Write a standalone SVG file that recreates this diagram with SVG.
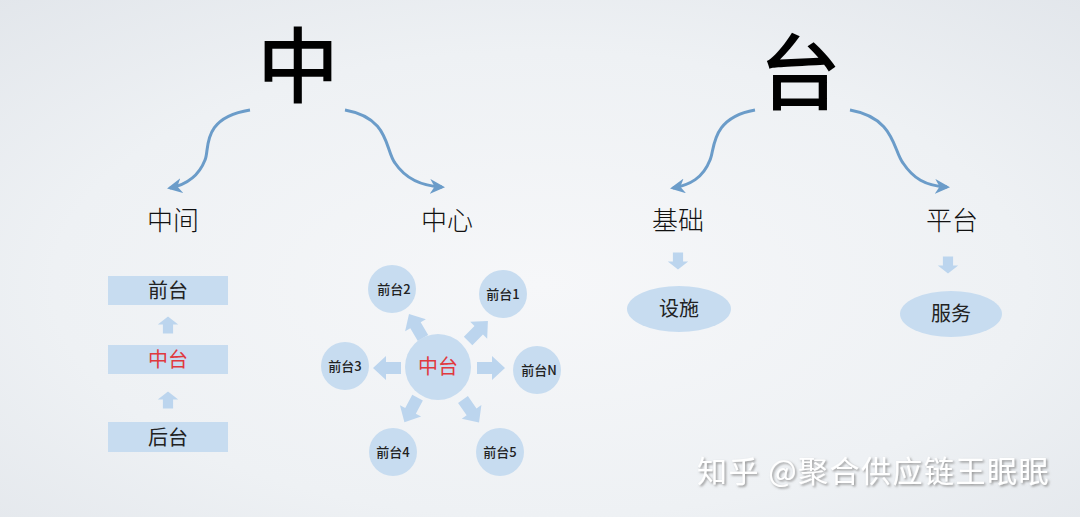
<svg xmlns="http://www.w3.org/2000/svg" width="1080" height="517" viewBox="0 0 1080 517">
<defs>
<radialGradient id="bg" cx="0.5" cy="0.55" r="0.75">
<stop offset="0" stop-color="#f6f7f9"/>
<stop offset="0.6" stop-color="#eef1f4"/>
<stop offset="1" stop-color="#e2e6eb"/>
</radialGradient>
<marker id="ah" viewBox="0 0 10 10" refX="8" refY="5" markerWidth="5" markerHeight="5" orient="auto">
<path d="M0,0 L10,5 L0,10 L3,5 Z" fill="#6b9cc9"/>
</marker>
<path id="blk" d="M-14,-6 L1,-6 L1,-12 L14,0 L1,12 L1,6 L-14,6 Z"/>
<filter id="sh" x="-5%" y="-20%" width="110%" height="140%">
<feDropShadow dx="1.5" dy="1.5" stdDeviation="0.8" flood-color="#8c8c8c" flood-opacity="0.9"/>
</filter>
<style>
.big{font-family:"Noto Sans CJK SC","Noto Sans CJK JP",sans-serif;font-size:82px;font-weight:500;fill:#000;text-anchor:middle}
.lbl{font-family:"Noto Sans CJK SC",sans-serif;font-size:26px;font-weight:300;fill:#111;text-anchor:middle}
.box{fill:#c7dcf0}
.bt{font-family:"Noto Sans CJK SC",sans-serif;font-size:20px;fill:#222;text-anchor:middle}
.red{fill:#e0393e}
.circ{fill:#c7dcf0}
.ct{font-family:"Noto Sans CJK SC",sans-serif;font-size:13px;font-weight:500;fill:#222;text-anchor:middle}
.ba{fill:#bcd5ee}
.curve{fill:none;stroke:#6b9cc9;stroke-width:3;marker-end:url(#ah)}
.wm{font-family:"Noto Sans CJK SC",sans-serif;font-size:30px;letter-spacing:1.5px;fill:#ffffff;filter:url(#sh)}
</style>
</defs>
<rect width="1080" height="517" fill="url(#bg)"/>

<g id="title-zhong"><text class="big" x="298" y="96">中</text></g>
<g id="title-tai"><text class="big" x="800" y="103">台</text></g>

<g id="connectors">
<path class="curve" d="M250,110 C200,118 210,150 205,160 C198,178 185,185 170,188"/>
<path class="curve" d="M345,110 C390,118 385,150 395,163 C405,178 420,186 442,187"/>
<path class="curve" d="M755,110 C710,118 715,150 710,160 C703,178 690,185 673,188"/>
<path class="curve" d="M850,110 C895,118 893,150 903,163 C913,178 925,186 947,187"/>
</g>

<g id="label-zhongjian"><text class="lbl" x="173" y="230">中间</text></g>
<g id="label-zhongxin"><text class="lbl" x="447" y="230">中心</text></g>
<g id="label-jichu"><text class="lbl" x="678" y="230">基础</text></g>
<g id="label-pingtai"><text class="lbl" x="952" y="230">平台</text></g>

<g id="stack-qiantai"><rect class="box" x="108" y="276" width="120" height="29"/><text class="bt" x="168" y="298">前台</text></g>
<g id="stack-zhongtai"><rect class="box" x="108" y="345" width="120" height="29"/><text class="bt red" x="168" y="367">中台</text></g>
<g id="stack-houtai"><rect class="box" x="108" y="422" width="120" height="30"/><text class="bt" x="168" y="445">后台</text></g>
<g id="stack-arrows">
<use href="#blk" class="ba" transform="translate(168,325) rotate(-90) scale(0.6,0.85)"/>
<use href="#blk" class="ba" transform="translate(168,400) rotate(-90) scale(0.6,0.85)"/>
</g>

<g id="hub-arrows">
<use href="#blk" class="ba" transform="translate(416,326) rotate(-120)"/>
<use href="#blk" class="ba" transform="translate(478,331) rotate(-45)"/>
<use href="#blk" class="ba" transform="translate(387,368) rotate(180)"/>
<use href="#blk" class="ba" transform="translate(491,368)"/>
<use href="#blk" class="ba" transform="translate(411,410) rotate(118)"/>
<use href="#blk" class="ba" transform="translate(471,411) rotate(55)"/>
</g>
<g id="hub"><circle class="circ" cx="438" cy="367" r="33"/><text class="bt red" x="438" y="374" style="font-size:20px">中台</text></g>
<g id="sat-2"><circle class="circ" cx="392" cy="289" r="24"/><text class="ct" x="394" y="294">前台2</text></g>
<g id="sat-1"><circle class="circ" cx="503" cy="294" r="24"/><text class="ct" x="503" y="299">前台1</text></g>
<g id="sat-3"><circle class="circ" cx="345" cy="366" r="24"/><text class="ct" x="345" y="371">前台3</text></g>
<g id="sat-n"><circle class="circ" cx="537" cy="370" r="24"/><text class="ct" x="539" y="375">前台N</text></g>
<g id="sat-4"><circle class="circ" cx="393" cy="452" r="24"/><text class="ct" x="393" y="457">前台4</text></g>
<g id="sat-5"><circle class="circ" cx="500" cy="452" r="24"/><text class="ct" x="500" y="457">前台5</text></g>

<g id="jichu-arrow"><use href="#blk" class="ba" transform="translate(678,261) rotate(90) scale(0.6,0.85)"/></g>
<g id="sheshi"><ellipse class="circ" cx="679" cy="309" rx="52" ry="23"/><text class="bt" x="679" y="316">设施</text></g>
<g id="pingtai-arrow"><use href="#blk" class="ba" transform="translate(948,265) rotate(90) scale(0.6,0.85)"/></g>
<g id="fuwu"><ellipse class="circ" cx="951" cy="314" rx="51" ry="23"/><text class="bt" x="951" y="321">服务</text></g>

<g id="watermark"><text class="wm" x="697" y="482">知乎 @聚合供应链王眠眠</text></g>
</svg>
